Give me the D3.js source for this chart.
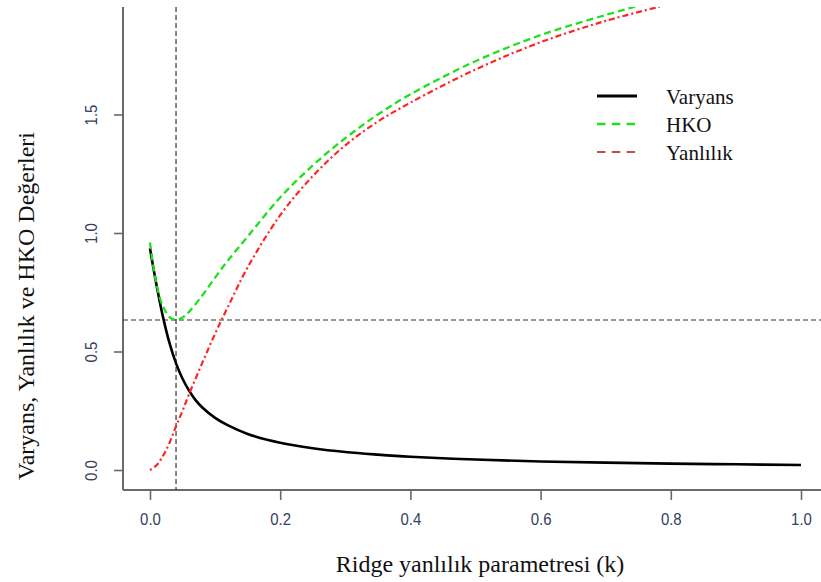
<!DOCTYPE html>
<html>
<head>
<meta charset="utf-8">
<script src="https://cdn.jsdelivr.net/npm/d3@7"></script>
<style>
  html, body { margin: 0; padding: 0; background: #fff; }
  svg { display: block; }
</style>
</head>
<body>
<svg id="chart" width="821" height="582"></svg>
<script>
// ---- Data ----
const kValues   = [0, 0.005, 0.01, 0.015, 0.02, 0.03, 0.04, 0.05, 0.06, 0.07, 0.08, 0.1, 0.12, 0.15, 0.2, 0.25, 0.3, 0.35, 0.4, 0.5, 0.6, 0.7, 0.8, 0.9, 1.0];
const varyans   = [0.935, 0.855, 0.78, 0.71, 0.645, 0.535, 0.45, 0.385, 0.335, 0.295, 0.265, 0.22, 0.188, 0.152, 0.115, 0.092, 0.076, 0.065, 0.056, 0.044, 0.036, 0.031, 0.027, 0.024, 0.021];

const kHKO      = [0, 0.005, 0.01, 0.015, 0.02, 0.03, 0.04, 0.05, 0.06, 0.08, 0.1, 0.12, 0.15, 0.2, 0.25, 0.3, 0.35, 0.4, 0.5, 0.6, 0.7, 0.745];
const hko       = [0.96, 0.86, 0.785, 0.728, 0.69, 0.645, 0.633, 0.643, 0.668, 0.735, 0.812, 0.885, 0.985, 1.15, 1.285, 1.40, 1.50, 1.585, 1.725, 1.835, 1.92, 1.955];

const kYanlilik = [0, 0.01, 0.02, 0.03, 0.04, 0.05, 0.06, 0.08, 0.1, 0.12, 0.15, 0.2, 0.25, 0.3, 0.35, 0.4, 0.5, 0.6, 0.7, 0.783];
const yanlilik  = [0, 0.02, 0.06, 0.115, 0.185, 0.25, 0.32, 0.45, 0.575, 0.69, 0.855, 1.075, 1.24, 1.37, 1.47, 1.55, 1.69, 1.805, 1.895, 1.955];

const xTicks = [0, 0.2, 0.4, 0.6, 0.8, 1.0];
const yTicks = [0, 0.5, 1.0, 1.5];
const optimumK = 0.04;
const optimumHKO = 0.633;

const seriesNames = ["Varyans", "HKO", "Yanlılık"];
const xTitle = "Ridge yanlılık parametresi (k)";
const yTitle = "Varyans, Yanlılık ve HKO Değerleri";

// ---- Layout ----
const svg = d3.select("#chart");
const plot = { left: 123, right: 821, top: 7, bottom: 490 };

const x = d3.scaleLinear().domain([0, 1]).range([150, 801]);
const y = d3.scaleLinear().domain([0, 1]).range([470, 233]);

const tickColor = "#33405e";
const axisColor = "#6a6a6a";

svg.append("defs").append("clipPath").attr("id", "clip")
  .append("rect")
  .attr("x", plot.left).attr("y", plot.top)
  .attr("width", plot.right - plot.left).attr("height", plot.bottom - plot.top);

// ---- Axes ----
const xAxis = svg.append("g")
  .attr("transform", `translate(0,${plot.bottom})`)
  .call(d3.axisBottom(x).tickValues(xTicks).tickFormat(d3.format(".1f")).tickSizeInner(10).tickSizeOuter(0));
xAxis.select(".domain").remove();
xAxis.selectAll(".tick line").attr("stroke", axisColor).attr("stroke-width", 1.6);
xAxis.selectAll(".tick text")
  .attr("y", 35).attr("dy", 0)
  .attr("transform", "scale(0.88,1)")
  .attr("fill", tickColor)
  .style("font-family", "'Liberation Sans', Arial, sans-serif")
  .style("font-size", "17px");

const yAxis = svg.append("g")
  .attr("transform", `translate(${plot.left},0)`)
  .call(d3.axisLeft(y).tickValues(yTicks).tickFormat(d3.format(".1f")).tickSizeInner(9).tickSizeOuter(0));
yAxis.select(".domain").remove();
yAxis.selectAll(".tick line").attr("stroke", axisColor).attr("stroke-width", 1.6);
yAxis.selectAll(".tick text")
  .attr("x", 0).attr("y", -26).attr("dy", 0)
  .attr("transform", "rotate(-90) scale(0.88,1)")
  .attr("text-anchor", "middle")
  .attr("fill", tickColor)
  .style("font-family", "'Liberation Sans', Arial, sans-serif")
  .style("font-size", "17px");

// box lines (bty = "l")
svg.append("line")
  .attr("x1", plot.left).attr("x2", plot.left)
  .attr("y1", plot.top).attr("y2", plot.bottom)
  .attr("stroke", axisColor).attr("stroke-width", 2);
svg.append("line")
  .attr("x1", plot.left).attr("x2", plot.right)
  .attr("y1", plot.bottom).attr("y2", plot.bottom)
  .attr("stroke", axisColor).attr("stroke-width", 2);

// ---- Reference lines ----
const g = svg.append("g").attr("clip-path", "url(#clip)");
g.append("line")
  .attr("x1", x(optimumK)).attr("x2", x(optimumK))
  .attr("y1", plot.top).attr("y2", plot.bottom)
  .attr("stroke", "#333").attr("stroke-width", 1.2).attr("stroke-dasharray", "5,3");
g.append("line")
  .attr("x1", plot.left).attr("x2", plot.right)
  .attr("y1", y(optimumHKO)).attr("y2", y(optimumHKO))
  .attr("stroke", "#333").attr("stroke-width", 1.2).attr("stroke-dasharray", "5,3");

// ---- Curves ----
const line = d3.line().x(d => x(d[0])).y(d => y(d[1])).curve(d3.curveCatmullRom.alpha(0.5));

g.append("path")
  .datum(d3.zip(kValues, varyans))
  .attr("d", line)
  .attr("fill", "none").attr("stroke", "#000").attr("stroke-width", 2.6);

g.append("path")
  .datum(d3.zip(kHKO, hko))
  .attr("d", line)
  .attr("fill", "none").attr("stroke", "#1ee01e").attr("stroke-width", 2.3)
  .attr("stroke-dasharray", "7,4");

g.append("path")
  .datum(d3.zip(kYanlilik, yanlilik))
  .attr("d", line)
  .attr("fill", "none").attr("stroke", "#ff2424").attr("stroke-width", 2.2)
  .attr("stroke-dasharray", "2,3,6,3");

// ---- Legend ----
const legendItems = [
  { name: seriesNames[0], color: "#000", width: 3.2, dash: null },
  { name: seriesNames[1], color: "#1ee01e", width: 2.6, dash: "8.5,6.3" },
  { name: seriesNames[2], color: "#c0504d", width: 2.2, dash: "8.5,6.3" }
];
const legend = svg.append("g");
legendItems.forEach((it, i) => {
  const ly = 96 + i * 28;
  legend.append("line")
    .attr("x1", 597).attr("x2", 637).attr("y1", ly).attr("y2", ly)
    .attr("stroke", it.color).attr("stroke-width", it.width)
    .attr("stroke-dasharray", it.dash);
  legend.append("text")
    .attr("x", 666).attr("y", ly + 8)
    .attr("fill", "#111")
    .style("font-family", "'Liberation Serif', 'Times New Roman', serif")
    .style("font-size", "21px")
    .text(it.name);
});

// ---- Axis titles ----
svg.append("text")
  .attr("x", 480).attr("y", 572)
  .attr("text-anchor", "middle")
  .attr("fill", "#111")
  .style("font-family", "'Liberation Serif', 'Times New Roman', serif")
  .style("font-size", "24px")
  .text(xTitle);

svg.append("text")
  .attr("transform", "translate(34,306) rotate(-90)")
  .attr("text-anchor", "middle")
  .attr("fill", "#111")
  .style("font-family", "'Liberation Serif', 'Times New Roman', serif")
  .style("font-size", "24px")
  .text(yTitle);
</script>
</body>
</html>
